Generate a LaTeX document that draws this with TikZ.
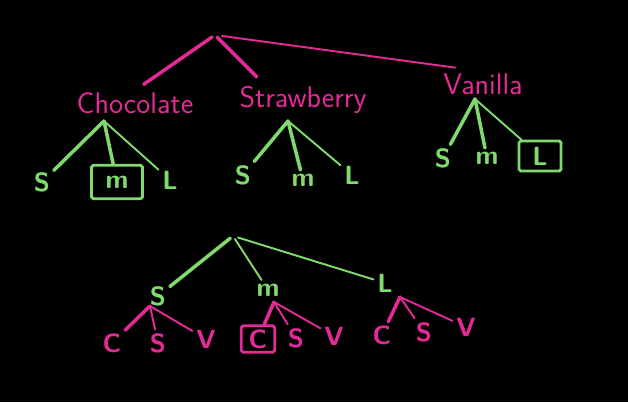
\documentclass[tikz,border=0pt]{standalone}
\usepackage{tikz}
\definecolor{hotpink}{RGB}{228,42,150}
\definecolor{chalkgreen}{RGB}{128,218,110}

\begin{document}
\begin{tikzpicture}[
  x=0.02cm, y=-0.02cm,
  flavnode/.style={text=hotpink, inner sep=1pt, font=\sffamily\fontsize{17}{19}\selectfont},
  sizenode/.style={text=chalkgreen, inner sep=2pt, font=\sffamily\bfseries\fontsize{15}{17}\selectfont},
  lettnode/.style={text=hotpink, inner sep=2pt, font=\sffamily\bfseries\fontsize{15}{17}\selectfont},
  gline/.style={draw=chalkgreen, line width=2pt, line cap=round},
  pline/.style={draw=hotpink, line width=2pt, line cap=round},
  thin/.style={line width=1.1pt},
  picked/.style={draw, line width=1.6pt, rounded corners=1pt},
]
\fill[black] (0,0) rectangle (628,402);

% ice cream first
\coordinate (r1) at (215,35);
\node[flavnode] (choc) at (135,103) {Chocolate};
\node[flavnode] (straw) at (303,100) {Strawberry};
\node[flavnode] (van) at (483,84) {Vanilla};
\draw[pline, shorten <=2pt, shorten >=6pt] (r1) -- (choc.north);
\draw[pline, shorten <=2pt, shorten >=6pt] (r1) -- (straw.158);
\draw[pline, thin, shorten <=4pt, shorten >=16pt] (r1) -- (van.north);

\coordinate (cr) at (104,121);
\node[sizenode] (cs) at (42,182) {S};
\node[sizenode, picked, draw=chalkgreen, minimum width=29pt, minimum height=19pt] (cm) at (117,182) {m};
\node[sizenode] (cl) at (170,180) {L};
\draw[gline] (cr) -- (cs);
\draw[gline] (cr) -- (cm);
\draw[gline, thin] (cr) -- (cl);

\coordinate (sr) at (288,121);
\node[sizenode] (ss) at (243,175) {S};
\node[sizenode] (sm) at (303,180) {m};
\node[sizenode] (sl) at (352,175) {L};
\draw[gline] (sr) -- (ss);
\draw[gline] (sr) -- (sm);
\draw[gline, thin] (sr) -- (sl);

\coordinate (vr) at (475,99);
\node[sizenode] (vs) at (443,158) {S};
\node[sizenode] (vm) at (487,158) {m};
\node[sizenode, picked, draw=chalkgreen, minimum width=24pt, minimum height=17pt] (vl) at (540,156) {L};
\draw[gline] (vr) -- (vs);
\draw[gline] (vr) -- (vm);
\draw[gline, thin] (vr) -- (vl);

% size first
\coordinate (r2) at (233,236);
\node[sizenode] (bs) at (158,296) {S};
\node[sizenode] (bm) at (268,290) {m};
\node[sizenode] (bl) at (385,283) {L};
\draw[gline, shorten <=2pt] (r2) -- (bs);
\draw[gline, thin, shorten <=2pt] (r2) -- (bm);
\draw[gline, thin, shorten <=3pt] (r2) -- (bl);

\coordinate (bsr) at (150,306);
\node[lettnode] (bsc) at (112,343) {C};
\node[lettnode] (bss) at (158,343) {S};
\node[lettnode] (bsv) at (206,339) {V};
\draw[pline] (bsr) -- (bsc);
\draw[pline, thin] (bsr) -- (bss);
\draw[pline, thin] (bsr) -- (bsv);

\coordinate (bmr) at (274,302);
\node[lettnode, picked, draw=hotpink, minimum width=19pt, minimum height=15pt] (bmc) at (258,339) {C};
\node[lettnode] (bms) at (296,338) {S};
\node[lettnode] (bmv) at (334,336) {V};
\draw[pline] (bmr) -- (bmc);
\draw[pline, thin] (bmr) -- (bms);
\draw[pline, thin] (bmr) -- (bmv);

\coordinate (blr) at (400,297);
\node[lettnode] (blc) at (382,335) {C};
\node[lettnode] (bls) at (424,332) {S};
\node[lettnode] (blv) at (466,327) {V};
\draw[pline] (blr) -- (blc);
\draw[pline, thin] (blr) -- (bls);
\draw[pline, thin] (blr) -- (blv);
\end{tikzpicture}
\end{document}
